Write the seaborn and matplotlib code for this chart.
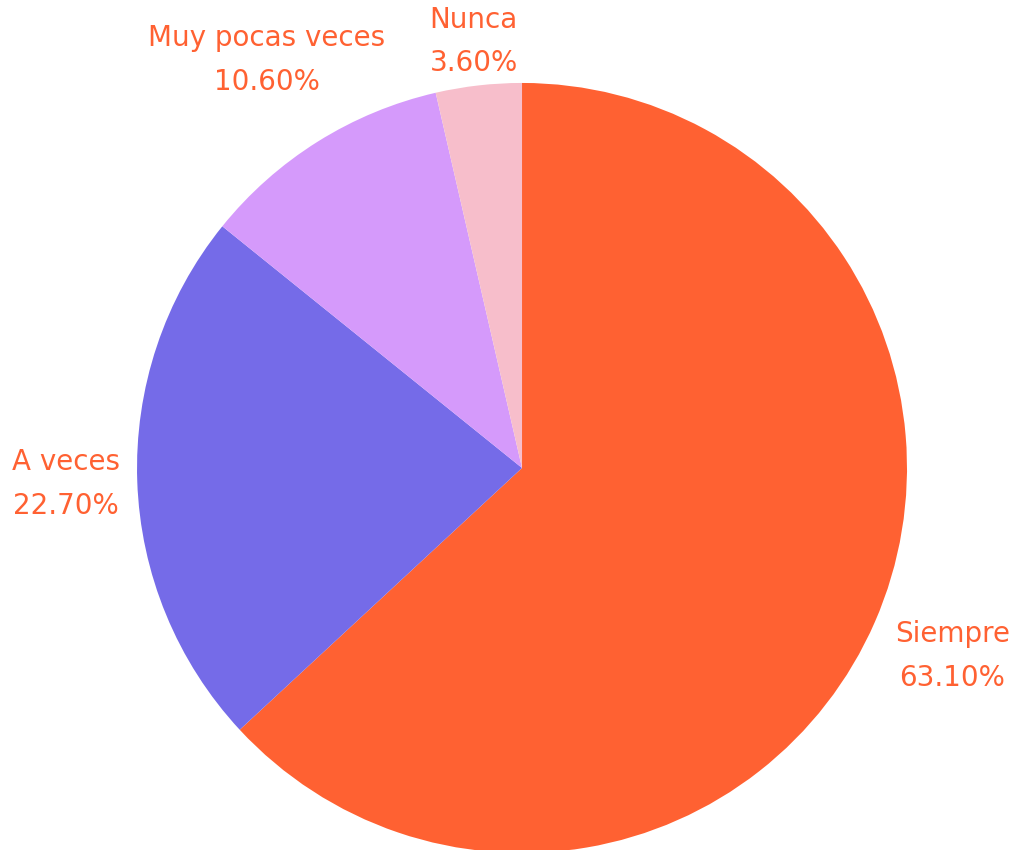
import numpy as np
import seaborn as sns
import matplotlib.pyplot as plt

sns.set_theme(style="white")
plt.rcParams['font.family'] = ['DejaVu Sans']

categories = ['Siempre', 'A veces', 'Muy pocas veces', 'Nunca']
values = [63.1, 22.7, 10.6, 3.6]
colors = sns.color_palette(['#FF6132', '#756BE8', '#D59AFB', '#F7BECB'])
label_color = '#FF6132'
label_dist = [1.22, 1.185, 1.25, 1.115]

fig = plt.figure(figsize=(10.15, 8.5), dpi=100)
ax = fig.add_axes([0.135, -0.0035, 0.7586, 0.9059])
wedges, _ = ax.pie(values, colors=colors, startangle=90, counterclock=False,
                   radius=1, wedgeprops=dict(linewidth=0))
ax.set_xlim(-1, 1)
ax.set_ylim(-1, 1)
ax.set_aspect('auto')
ax.axis('off')

for w, cat, v, d in zip(wedges, categories, values, label_dist):
    mid = np.deg2rad((w.theta1 + w.theta2) / 2)
    ax.text(d * np.cos(mid), d * np.sin(mid), f'{cat}\n{v:.2f}%',
            ha='center', va='center', color=label_color, fontsize=20,
            linespacing=1.72, clip_on=False)

fig.savefig('out.png', dpi=100)
